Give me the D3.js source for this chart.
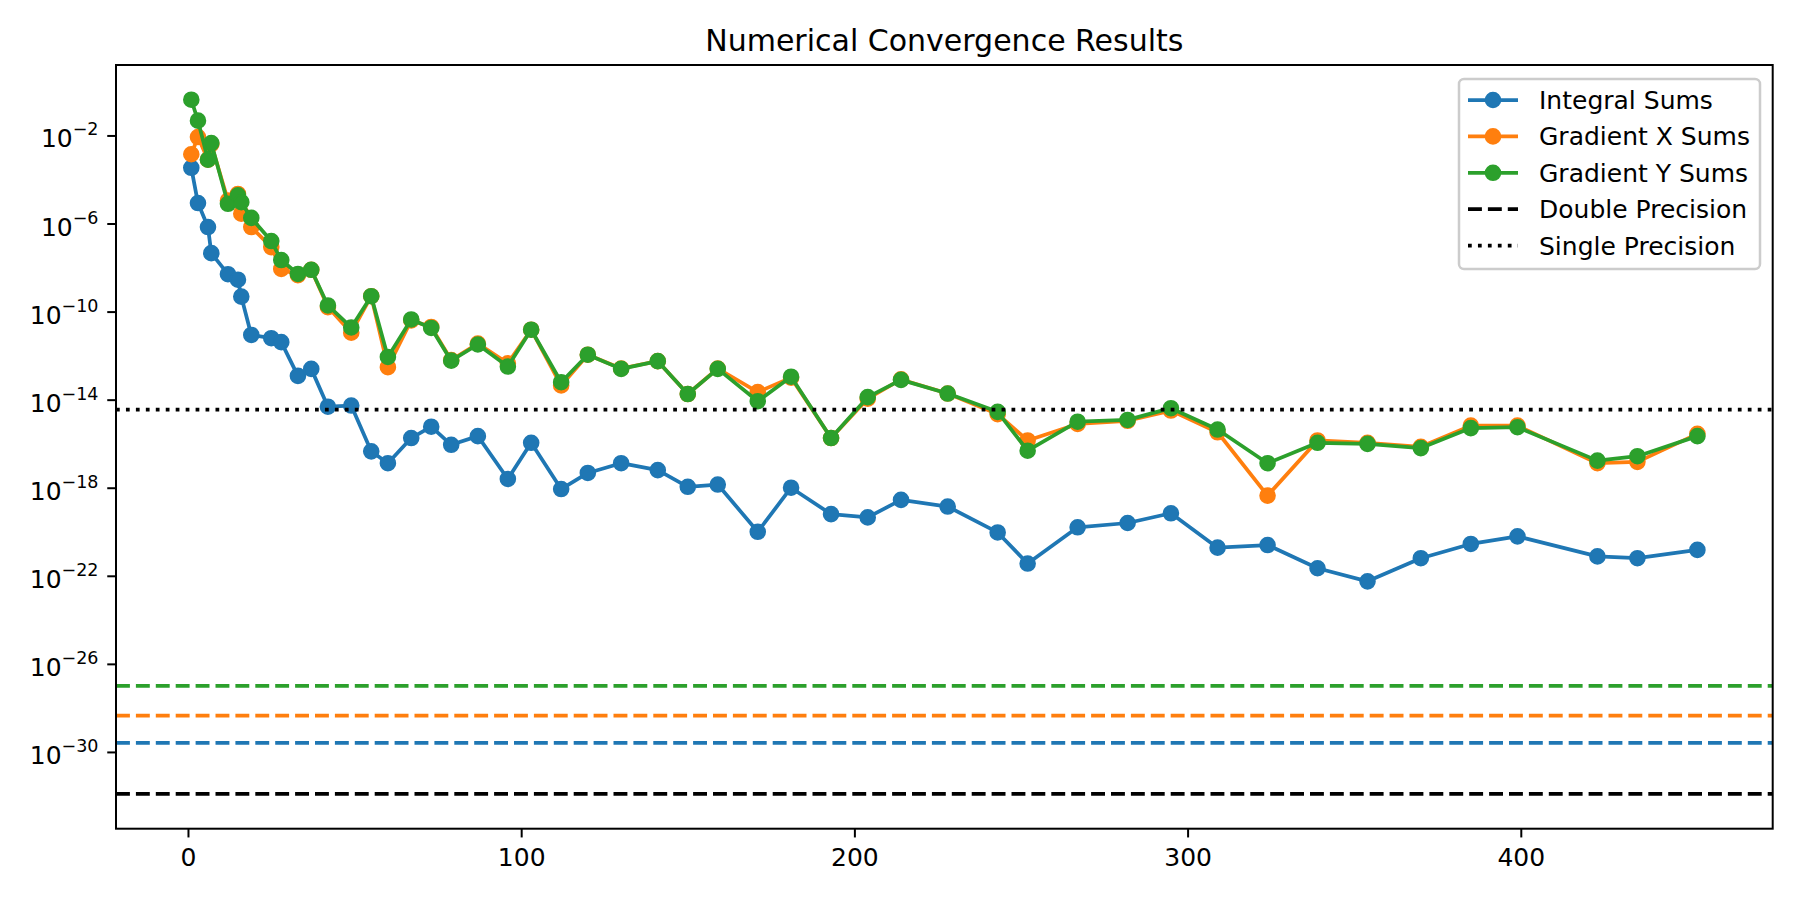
<!DOCTYPE html>
<html>
<head>
<meta charset="utf-8">
<script src="https://cdn.jsdelivr.net/npm/d3@7"></script>
<style>
  html, body { margin: 0; padding: 0; background: #fff; }
  svg text { font-family: "DejaVu Sans", sans-serif; fill: #000; }
</style>
</head>
<body>
<svg id="chart" width="1799" height="899"></svg>
<script>
// ---------- data ----------
const iterations = [1, 3, 6, 7, 12, 15, 16, 19, 25, 28, 33, 37, 42, 49, 55, 60, 67, 73, 79, 87, 96, 103, 112, 120, 130, 141, 150, 159, 171, 181, 193, 204, 214, 228, 243, 252, 267, 282, 295, 309, 324, 339, 354, 370, 385, 399, 423, 435, 453];

const integralSums = [3.4e-4, 8.5e-6, 6.9e-7, 4.5e-8, 5.0e-9, 2.8e-9, 4.8e-10, 8.7e-12, 6.2e-12, 4.1e-12, 1.2e-13, 2.5e-13, 4.8e-15, 5.4e-15, 4.5e-17, 1.3e-17, 1.8e-16, 5.9e-16, 8.9e-17, 2.2e-16, 2.5e-18, 1.1e-16, 8.7e-19, 4.7e-18, 1.3e-17, 6.3e-18, 1.1e-18, 1.4e-18, 1.0e-20, 1.0e-18, 6.3e-20, 4.5e-20, 2.8e-19, 1.4e-19, 9.3e-21, 3.6e-22, 1.6e-20, 2.5e-20, 6.9e-20, 1.9e-21, 2.5e-21, 2.2e-22, 5.6e-23, 6.3e-22, 2.8e-21, 6.2e-21, 7.6e-22, 6.3e-22, 1.5e-21];

const gradientXSums = [1.4e-3, 8.5e-3, 7.9e-4, 4.0e-3, 1.1e-5, 2.2e-5, 2.8e-6, 6.9e-7, 8.5e-8, 8.7e-9, 4.5e-9, 7.9e-9, 1.6e-10, 1.1e-11, 5.0e-10, 3.0e-13, 4.0e-11, 2.0e-11, 6.3e-13, 3.5e-12, 4.5e-13, 1.5e-11, 4.4e-14, 1.1e-12, 2.6e-13, 5.6e-13, 1.8e-14, 2.6e-13, 2.2e-14, 1.0e-13, 1.8e-16, 1.1e-14, 8.3e-14, 1.9e-14, 2.2e-15, 1.4e-16, 7.9e-16, 1.1e-15, 3.2e-15, 3.3e-16, 4.4e-19, 1.4e-16, 1.1e-16, 7.2e-17, 6.6e-16, 6.6e-16, 1.3e-17, 1.5e-17, 2.8e-16];

const gradientYSums = [4.2e-1, 4.7e-2, 7.9e-4, 4.5e-3, 7.9e-6, 1.9e-5, 9.3e-6, 1.8e-6, 1.6e-7, 2.2e-8, 5.1e-9, 7.9e-9, 1.9e-10, 1.9e-11, 5.0e-10, 8.7e-13, 4.4e-11, 1.8e-11, 5.9e-13, 3.2e-12, 3.2e-13, 1.5e-11, 6.2e-14, 1.1e-12, 2.5e-13, 5.6e-13, 1.8e-14, 2.5e-13, 8.5e-15, 1.1e-13, 1.8e-16, 1.3e-14, 7.9e-14, 1.9e-14, 2.8e-15, 4.8e-17, 1.0e-15, 1.2e-15, 4.1e-15, 4.4e-16, 1.3e-17, 1.1e-16, 9.8e-17, 6.3e-17, 5.1e-16, 5.6e-16, 1.7e-17, 2.7e-17, 2.2e-16];

const seriesNames = ["Integral Sums", "Gradient X Sums", "Gradient Y Sums"];
const seriesColors = ["#1f77b4", "#ff7f0e", "#2ca02c"];

// horizontal reference levels
const doublePrecision = 1.23e-32;
const singlePrecision = 3.55e-15;
const seriesFloors = [2.6e-30, 4.4e-29, 1.0e-27];   // dashed, one per series colour

const xTickValues = [0, 100, 200, 300, 400];
const yTickExponents = [-2, -6, -10, -14, -18, -22, -26, -30];

const titleText = "Numerical Convergence Results";

// ---------- layout ----------
const svg = d3.select("#chart");
const axLeft = 116, axRight = 1772.7, axTop = 65, axBottom = 828.7;

const allSeries = [integralSums, gradientXSums, gradientYSums];

// matplotlib-like 5% margins
const xMin = d3.min(iterations), xMax = d3.max(iterations);
const xPad = (xMax - xMin) * 0.05;
const x = d3.scaleLinear().domain([xMin - xPad, xMax + xPad]).range([axLeft, axRight]);

const allY = [].concat(...allSeries, [doublePrecision, singlePrecision], seriesFloors);
const lMin = Math.log10(d3.min(allY)), lMax = Math.log10(d3.max(allY));
const lPad = (lMax - lMin) * 0.05;
const y = d3.scaleLog().domain([Math.pow(10, lMin - lPad), Math.pow(10, lMax + lPad)]).range([axBottom, axTop]);

// clip
svg.append("defs").append("clipPath").attr("id", "clip")
  .append("rect").attr("x", axLeft).attr("y", axTop).attr("width", axRight - axLeft).attr("height", axBottom - axTop);

const plot = svg.append("g").attr("clip-path", "url(#clip)");

const lw = 3.75;
const line = d3.line().x((d, i) => x(iterations[i])).y(d => y(d));

allSeries.forEach((vals, si) => {
  const g = plot.append("g");
  g.append("path").datum(vals)
    .attr("d", line)
    .attr("fill", "none")
    .attr("stroke", seriesColors[si])
    .attr("stroke-width", lw)
    .attr("stroke-linejoin", "round")
    .attr("stroke-linecap", "butt");
  g.selectAll("circle").data(vals).enter().append("circle")
    .attr("cx", (d, i) => x(iterations[i]))
    .attr("cy", d => y(d))
    .attr("r", 7.4)
    .attr("fill", seriesColors[si])
    .attr("stroke", seriesColors[si])
    .attr("stroke-width", 1.8);
});

// reference lines
function hline(v, color, dash) {
  plot.append("line")
    .attr("x1", axLeft).attr("x2", axRight)
    .attr("y1", y(v)).attr("y2", y(v))
    .attr("stroke", color).attr("stroke-width", lw)
    .attr("stroke-dasharray", dash);
}
const dashed = "13.9,6", dotted = "3.75,6.2";
hline(doublePrecision, "#000", dashed);
hline(singlePrecision, "#000", dotted);
seriesFloors.forEach((v, i) => hline(v, seriesColors[i], dashed));

// frame
svg.append("rect").attr("x", axLeft).attr("y", axTop).attr("width", axRight - axLeft).attr("height", axBottom - axTop)
  .attr("fill", "none").attr("stroke", "#000").attr("stroke-width", 2);

// x axis ticks
const xAxis = d3.axisBottom(x).tickValues(xTickValues).tickSize(8.75).tickPadding(8.75).tickFormat(d3.format("d"));
const gx = svg.append("g").attr("transform", `translate(0,${axBottom})`).call(xAxis);
gx.select(".domain").remove();
gx.selectAll(".tick line").attr("stroke", "#000").attr("stroke-width", 2);
gx.selectAll(".tick text").attr("font-size", 25).attr("font-family", "DejaVu Sans").attr("fill", "#000")
  .attr("dy", null).attr("y", 37.3);

// y axis ticks
const yTicks = yTickExponents.map(e => Math.pow(10, e));
const yAxis = d3.axisLeft(y).tickValues(yTicks).tickSize(8.75).tickFormat("");
const gy = svg.append("g").attr("transform", `translate(${axLeft},0)`).call(yAxis);
gy.select(".domain").remove();
gy.selectAll(".tick line").attr("stroke", "#000").attr("stroke-width", 2);
gy.selectAll(".tick").each(function(d, i) {
  const t = d3.select(this).append("text")
    .attr("x", -17.5).attr("y", 11.5)
    .attr("text-anchor", "end")
    .attr("font-size", 25);
  t.append("tspan").text("10");
  t.append("tspan").attr("dy", -12).attr("font-size", 17.5).text("\u2212" + Math.abs(yTickExponents[i]));
});

// title
svg.append("text").attr("x", (axLeft + axRight) / 2).attr("y", 51)
  .attr("text-anchor", "middle").attr("font-size", 30).text(titleText);

// legend
const lg = svg.append("g");
lg.append("rect").attr("x", 1459).attr("y", 79).attr("width", 301).attr("height", 190)
  .attr("rx", 5).attr("fill", "#fff").attr("fill-opacity", 0.8)
  .attr("stroke", "#cccccc").attr("stroke-width", 2.5);
const legendItems = [
  { label: seriesNames[0], color: seriesColors[0], dash: null, marker: true },
  { label: seriesNames[1], color: seriesColors[1], dash: null, marker: true },
  { label: seriesNames[2], color: seriesColors[2], dash: null, marker: true },
  { label: "Double Precision", color: "#000", dash: dashed, marker: false },
  { label: "Single Precision", color: "#000", dash: dotted, marker: false }
];
const rowY = [100, 136.4, 172.8, 209.2, 245.6];
legendItems.forEach((it, i) => {
  const cy = rowY[i];
  lg.append("line").attr("x1", 1468).attr("x2", 1518).attr("y1", cy).attr("y2", cy)
    .attr("stroke", it.color).attr("stroke-width", lw)
    .attr("stroke-dasharray", it.dash);
  if (it.marker) {
    lg.append("circle").attr("cx", 1493).attr("cy", cy).attr("r", 7.4)
      .attr("fill", it.color).attr("stroke", it.color).attr("stroke-width", 1.8);
  }
  lg.append("text").attr("x", 1539).attr("y", cy + 9).attr("font-size", 25).text(it.label);
});
</script>
</body>
</html>
